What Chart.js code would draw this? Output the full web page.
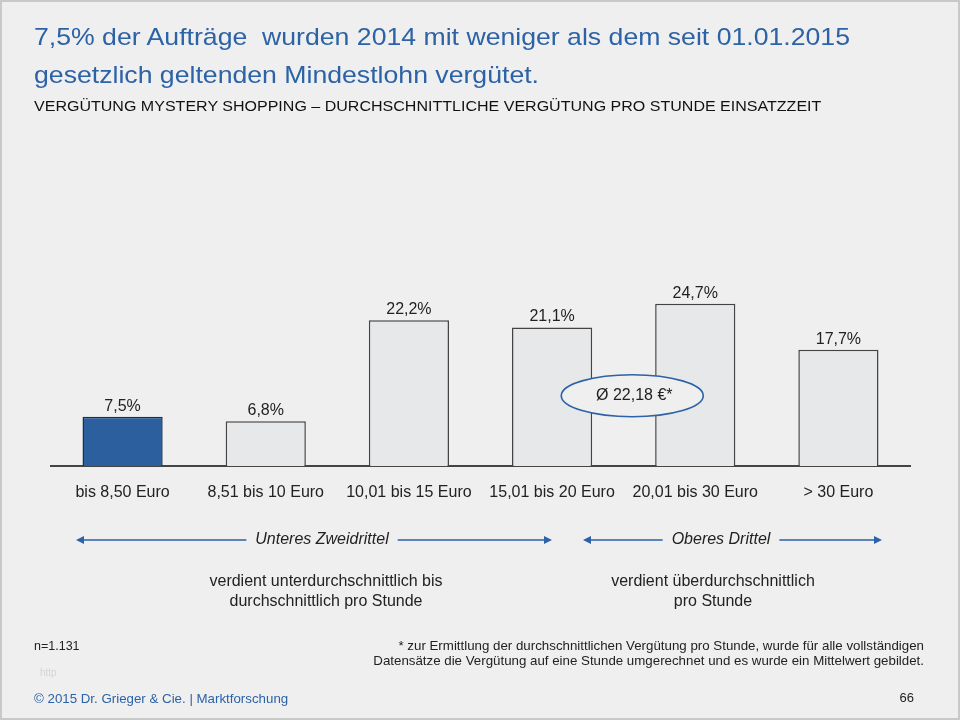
<!DOCTYPE html>
<html>
<head>
<meta charset="utf-8">
<script src="https://cdn.jsdelivr.net/npm/chart.js@4/dist/chart.umd.min.js"></script>
<style>
  html, body { margin: 0; padding: 0; }
  body { width: 960px; height: 720px; position: relative; background: #efefef; font-family: "Liberation Sans", Arial, sans-serif; overflow: hidden; }
  #frame { position: absolute; left: 0; top: 0; width: 956px; height: 716px; border: 2px solid #c9c9c9; }
  canvas#c { position: absolute; left: 0; top: 0; }
  .t { position: absolute; white-space: nowrap; }
  #title { left: 34px; top: 18px; font-size: 24px; line-height: 38px; color: #2c62a6; transform: scaleX(1.11); transform-origin: 0 0; }
  #sub { left: 34px; top: 98px; font-size: 14px; color: #111; transform: scaleX(1.145); transform-origin: 0 0; }
  .mid { text-align: center; font-size: 16px; color: #222; line-height: 20px; }
  #n { left: 34px; top: 639px; font-size: 12.5px; color: #222; }
  #foot { right: 36px; top: 638px; font-size: 13.3px; color: #222; text-align: right; line-height: 15px; }
  #http { left: 40px; top: 667px; font-size: 10px; color: #d4d4d4; }
  #copy { left: 34px; top: 691px; font-size: 13.3px; color: #2c62a6; }
  #page { right: 46px; top: 690px; font-size: 13px; color: #222; }
</style>
</head>
<body>
<div id="frame"></div>
<canvas id="c" width="960" height="720"></canvas>
<div class="t" id="title">7,5% der Aufträge&nbsp; wurden 2014 mit weniger als dem seit 01.01.2015<br>gesetzlich geltenden Mindestlohn vergütet.</div>
<div class="t" id="sub">VERGÜTUNG MYSTERY SHOPPING – DURCHSCHNITTLICHE VERGÜTUNG PRO STUNDE EINSATZZEIT</div>
<div class="t mid" style="left:196px; top:571px; width:260px;">verdient unterdurchschnittlich bis<br>durchschnittlich pro Stunde</div>
<div class="t mid" style="left:583px; top:571px; width:260px;">verdient überdurchschnittlich<br>pro Stunde</div>
<div class="t" id="n">n=1.131</div>
<div class="t" id="foot">* zur Ermittlung der durchschnittlichen Vergütung pro Stunde, wurde für alle vollständigen<br>Datensätze die Vergütung auf eine Stunde umgerechnet und es wurde ein Mittelwert gebildet.</div>
<div class="t" id="http">http</div>
<div class="t" id="copy">© 2015 Dr. Grieger &amp; Cie. | Marktforschung</div>
<div class="t" id="page">66</div>
<script>
const categories = ["bis 8,50 Euro", "8,51 bis 10 Euro", "10,01 bis 15 Euro", "15,01 bis 20 Euro", "20,01 bis 30 Euro", "> 30 Euro"];
const shares = [7.5, 6.8, 22.2, 21.1, 24.7, 17.7];
const barColors = ["#2c5f9e", "#e6e8ea", "#e6e8ea", "#e6e8ea", "#e6e8ea", "#e6e8ea"];
const barBorders = ["#1d2f48", "#444444", "#444444", "#444444", "#444444", "#444444"];
const averageLabel = "Ø 22,18 €*";
const rangeLabels = ["Unteres Zweidrittel", "Oberes Drittel"];

const FONT = '"Liberation Sans", Arial, sans-serif';

const annotations = {
  id: 'annotations',
  afterDatasetsDraw(chart) {
    const ctx = chart.ctx;
    const meta = chart.getDatasetMeta(0);
    ctx.save();
    // value labels
    ctx.font = '16px ' + FONT;
    ctx.fillStyle = '#222';
    ctx.textAlign = 'center';
    ctx.textBaseline = 'alphabetic';
    meta.data.forEach((bar, i) => {
      ctx.fillText(shares[i].toFixed(1).replace('.', ',') + '%', bar.x, bar.y - 6);
    });
    // average ellipse
    const xs = chart.scales.x, ys = chart.scales.y;
    const cx = xs.getPixelForValue(3.56), cy = ys.getPixelForValue(10.7);
    ctx.beginPath();
    ctx.ellipse(cx, cy, 71, 21, 0, 0, Math.PI * 2);
    ctx.fillStyle = '#efefef';
    ctx.fill();
    ctx.lineWidth = 1.6;
    ctx.strokeStyle = '#2c62a6';
    ctx.stroke();
    ctx.fillStyle = '#222';
    ctx.textBaseline = 'middle';
    ctx.fillText(averageLabel, cx + 2, cy);
    // range arrows
    const drawRange = (x1, x2, y, label, tx) => {
      ctx.font = 'italic 16px ' + FONT;
      const w = ctx.measureText(label).width;
      ctx.strokeStyle = '#2c62a6';
      ctx.fillStyle = '#2c62a6';
      ctx.lineWidth = 1.5;
      ctx.beginPath();
      ctx.moveTo(x1 + 6, y); ctx.lineTo(tx - w / 2 - 9, y);
      ctx.moveTo(tx + w / 2 + 9, y); ctx.lineTo(x2 - 6, y);
      ctx.stroke();
      ctx.beginPath();
      ctx.moveTo(x1, y); ctx.lineTo(x1 + 8, y - 4); ctx.lineTo(x1 + 8, y + 4); ctx.closePath(); ctx.fill();
      ctx.beginPath();
      ctx.moveTo(x2, y); ctx.lineTo(x2 - 8, y - 4); ctx.lineTo(x2 - 8, y + 4); ctx.closePath(); ctx.fill();
      ctx.fillStyle = '#222';
      ctx.textBaseline = 'middle';
      ctx.fillText(label, tx, y);
    };
    drawRange(76, 552, 540, rangeLabels[0], 322);
    drawRange(583, 882, 540, rangeLabels[1], 721);
    ctx.restore();
  }
};

new Chart(document.getElementById('c'), {
  type: 'bar',
  data: {
    labels: categories,
    datasets: [{
      data: shares,
      backgroundColor: barColors,
      borderColor: barBorders,
      borderWidth: 1.5,
      barPercentage: 0.56,
      categoryPercentage: 1.0
    }]
  },
  options: {
    responsive: false,
    animation: false,
    devicePixelRatio: 1,
    layout: { padding: { left: 51, right: 50, top: 269, bottom: 0 } },
    plugins: { legend: { display: false }, tooltip: { enabled: false } },
    scales: {
      y: { display: false, min: 0, max: 30 },
      x: {
        grid: { display: false, drawTicks: false },
        border: { display: true, color: '#444', width: 2 },
        ticks: { color: '#222', font: { family: FONT, size: 16 }, padding: 17, maxRotation: 0, autoSkip: false },
        afterFit(scale) { scale.height = 254; }
      }
    }
  },
  plugins: [annotations]
});
</script>
</body>
</html>
